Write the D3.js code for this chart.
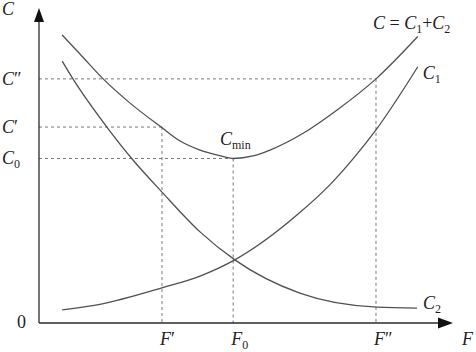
<!DOCTYPE html>
<html>
<head>
<meta charset="utf-8">
<script src="https://cdn.jsdelivr.net/npm/d3@7"></script>
<style>
  html, body { margin: 0; padding: 0; background: #fff; }
  svg { display: block; }
  text { font-family: "Liberation Serif", "Times New Roman", serif; fill: #1e1e1e; }
</style>
</head>
<body>
<svg id="chart" width="476" height="352"></svg>
<script>
"use strict";

// output F on the x axis, cost C on the y axis (arbitrary units 0..10)
const fMarks = [2.97, 4.69, 8.14]; // F', F0, F''
const cMarks = [6.30, 5.29, 7.85]; // C', C0 (= Cmin), C''
const fNames = [["F", "", "′"], ["F", "0", ""], ["F", "", "″"]];
const cNames = [["C", "", "′"], ["C", "0", ""], ["C", "", "″"]];

// total cost C = C1 + C2
const totalF = [0.56, 0.99, 1.55, 2.2, 2.95, 3.41, 3.89, 4.37, 4.69, 5.17, 5.58, 6.38, 7.2, 8.14, 9.15];
const totalC = [9.26, 8.65, 7.85, 7.07, 6.3, 5.85, 5.56, 5.38, 5.29, 5.37, 5.56, 6.1, 6.85, 7.85, 9.21];

// C1, rising
const c1F = [0.56, 1.47, 2.97, 3.89, 4.73, 6.3, 7.03, 7.63, 8.14, 9.15];
const c1C = [0.42, 0.6, 1.13, 1.51, 2.03, 3.55, 4.45, 5.35, 6.21, 8.24];

// C2, falling
const c2F = [0.56, 0.82, 1.64, 2.27, 2.97, 3.89, 4.73, 6.3, 8.16, 9.13];
const c2C = [8.42, 7.85, 6.3, 5.24, 4.21, 2.93, 2.03, 0.96, 0.51, 0.48];

const svg = d3.select("#chart");

const x = d3.scaleLinear().domain([0, 10]).range([39, 453]);
const y = d3.scaleLinear().domain([0, 10]).range([323, 12]);

const lineColor = "#505050";
const dashColor = "#777";

// dashed guides
fMarks.forEach((f, i) => {
	const c = cMarks[i];
	svg.append("line")
		.attr("x1", x(0)).attr("x2", x(f))
		.attr("y1", y(c)).attr("y2", y(c))
		.attr("stroke", dashColor).attr("stroke-width", 1)
		.attr("stroke-dasharray", "3,3");
	svg.append("line")
		.attr("x1", x(f)).attr("x2", x(f))
		.attr("y1", y(c)).attr("y2", y(0))
		.attr("stroke", dashColor).attr("stroke-width", 1)
		.attr("stroke-dasharray", "3,3");
});

// curves
const line = d3.line()
	.x((d) => x(d[0]))
	.y((d) => y(d[1]))
	.curve(d3.curveMonotoneX);

[
	[totalF, totalC],
	[c1F, c1C],
	[c2F, c2C],
].forEach(([fs, cs]) => {
	svg.append("path")
		.datum(fs.map((f, i) => [f, cs[i]]))
		.attr("d", line)
		.attr("fill", "none")
		.attr("stroke", lineColor)
		.attr("stroke-width", 1.3);
});

// axes
const axisColor = "#2a2a2a";
svg.append("line")
	.attr("x1", x(0)).attr("x2", x(10) - 10)
	.attr("y1", y(0)).attr("y2", y(0))
	.attr("stroke", axisColor).attr("stroke-width", 1.3);
svg.append("line")
	.attr("x1", x(0)).attr("x2", x(0))
	.attr("y1", y(0)).attr("y2", y(10) + 6)
	.attr("stroke", axisColor).attr("stroke-width", 1.3);

// arrow heads
svg.append("path")
	.attr("d", `M${x(10)},${y(0)} L${x(10) - 15},${y(0) - 5.5} L${x(10) - 15},${y(0) + 5.5} Z`)
	.attr("fill", "#111");
svg.append("path")
	.attr("d", `M${x(0)},${y(10) - 4} L${x(0) - 5},${y(10) + 10} L${x(0) + 5},${y(10) + 10} Z`)
	.attr("fill", "#111");

// label helper: italic letter, upright subscript, prime
function label(px, py, parts) {
	const t = svg.append("text")
		.attr("x", px).attr("y", py)
		.attr("font-size", 18);
	parts.forEach((p) => {
		if (p.t === "") return;
		const s = t.append("tspan").text(p.t);
		if (p.kind === "it") s.attr("font-style", "italic");
		if (p.kind === "sub") s.attr("font-size", 12).attr("dy", 4);
		if (p.kind === "up") s.attr("dy", p.dy || 0);
	});
	return t;
}

function nameParts(n) {
	return [
		{ t: n[0], kind: "it" },
		{ t: n[1], kind: "sub" },
		{ t: n[2], kind: "up", dy: n[1] ? -4 : 0 },
	];
}

// y-axis labels
cMarks.forEach((c, i) => {
	label(2, y(c) + 6, nameParts(cNames[i]));
});
label(2, 15, [{ t: "C", kind: "it" }]);
label(17, y(0) + 5, [{ t: "0", kind: "up" }]);

// x-axis labels
fMarks.forEach((f, i) => {
	label(x(f) - 2, 345, nameParts(fNames[i]));
});
label(462, 345, [{ t: "F", kind: "it" }]);

// curve labels
label(220, y(cMarks[1]) - 13, [
	{ t: "C", kind: "it" },
	{ t: "min", kind: "sub" },
]);
label(x(c1F[c1F.length - 1]) + 5, y(c1C[c1C.length - 1]) + 12, [
	{ t: "C", kind: "it" },
	{ t: "1", kind: "sub" },
]);
label(x(c2F[c2F.length - 1]) + 6, y(c2C[c2C.length - 1]) + 1, [
	{ t: "C", kind: "it" },
	{ t: "2", kind: "sub" },
]);
label(373, 29, [
	{ t: "C", kind: "it" },
	{ t: " = ", kind: "up" },
	{ t: "C", kind: "it" },
	{ t: "1", kind: "sub" },
	{ t: "+", kind: "up", dy: -4 },
	{ t: "C", kind: "it" },
	{ t: "2", kind: "sub" },
]);
</script>
</body>
</html>
